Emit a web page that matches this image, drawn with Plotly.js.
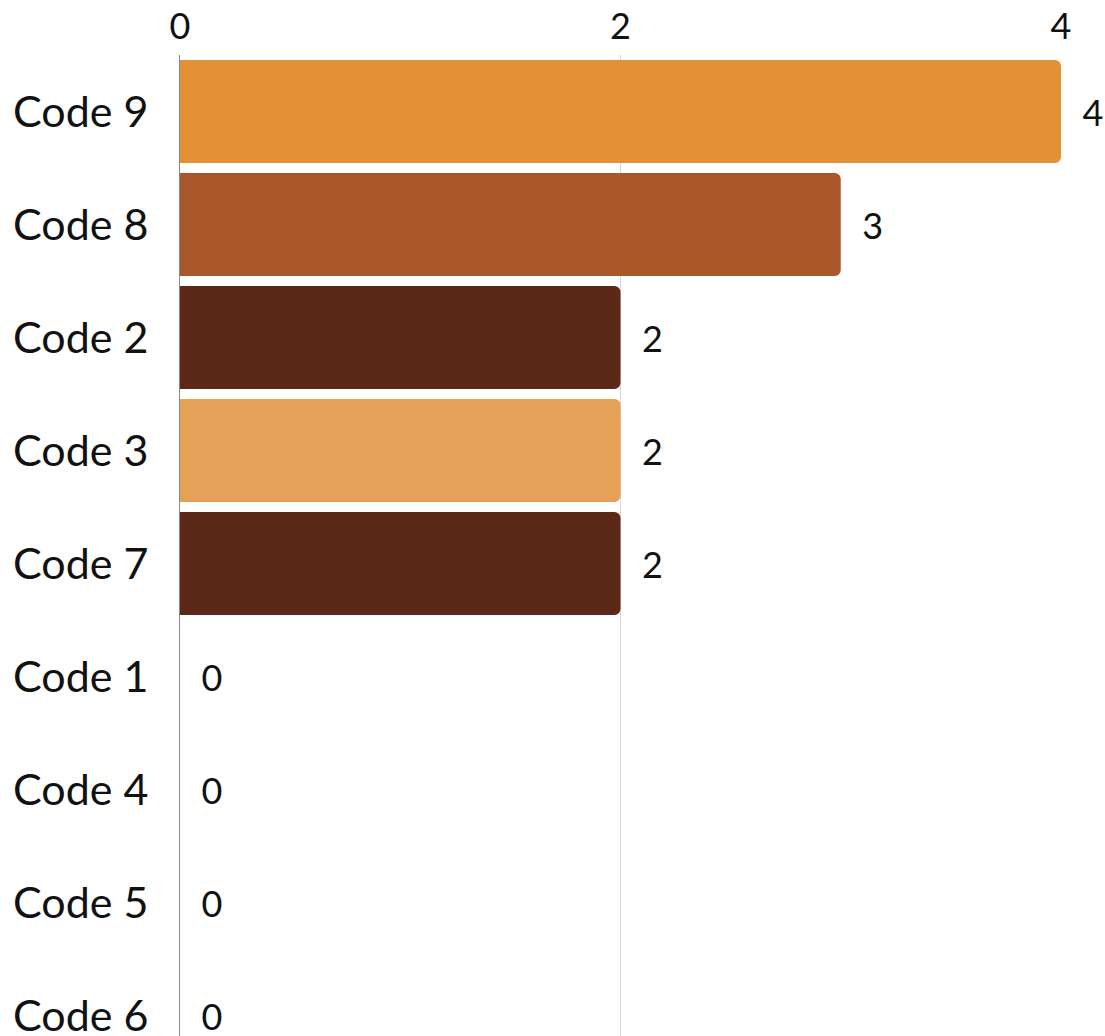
<!DOCTYPE html>
<html>
<head>
<meta charset="utf-8">
<script src="https://cdn.plot.ly/plotly-3.0.1.min.js"></script>
<style>html,body{margin:0;padding:0;background:#fff;}</style>
</head>
<body>
<div id="chart" style="width:1105px;height:1080px;"></div>
<script>
const categories = ["Code 9", "Code 8", "Code 2", "Code 3", "Code 7", "Code 1", "Code 4", "Code 5", "Code 6"];
const values = [4, 3, 2, 2, 2, 0, 0, 0, 0];
const barColors = ["#E49035", "#AA572B", "#5C2818", "#E4A157", "#5C2818", "#E49035", "#AA572B", "#5C2818", "#E4A157"];
const tickValues = [0, 2, 4];
const tickLabels = ["0", "2", "4"];

const trace = {
  type: "bar",
  orientation: "h",
  x: values,
  y: categories,
  marker: { color: barColors, cornerradius: 6 },
  text: values.map(String),
  texttemplate: "\u00a0\u00a0%{text}",
  textposition: "outside",
  cliponaxis: false,
  textfont: { family: "Lato, 'Noto Sans', sans-serif", size: 36, color: "#111" },
  hoverinfo: "none"
};

const layout = {
  width: 1105,
  height: 1080,
  margin: { l: 180, r: 44, t: 55, b: 8 },
  paper_bgcolor: "#fff",
  plot_bgcolor: "#fff",
  showlegend: false,
  bargap: 0.09,
  font: { family: "Lato, 'Noto Sans', sans-serif", color: "#111" },
  xaxis: {
    side: "top",
    range: [0, 4],
    tickvals: tickValues,
    ticktext: tickLabels,
    ticks: "",
    ticklabelstandoff: 8,
    tickfont: { size: 36, color: "#111" },
    showgrid: true,
    gridcolor: "#d6d6d6",
    gridwidth: 1,
    zeroline: false,
    showline: false,
    fixedrange: true
  },
  yaxis: {
    categoryorder: "array",
    categoryarray: categories,
    autorange: "reversed",
    ticks: "",
    ticklabelstandoff: 22,
    tickfont: { size: 43, color: "#111" },
    showgrid: false,
    zeroline: false,
    showline: true,
    linecolor: "#888",
    linewidth: 1,
    fixedrange: true
  }
};

Plotly.newPlot("chart", [trace], layout, { displayModeBar: false, staticPlot: true });
</script>
</body>
</html>
